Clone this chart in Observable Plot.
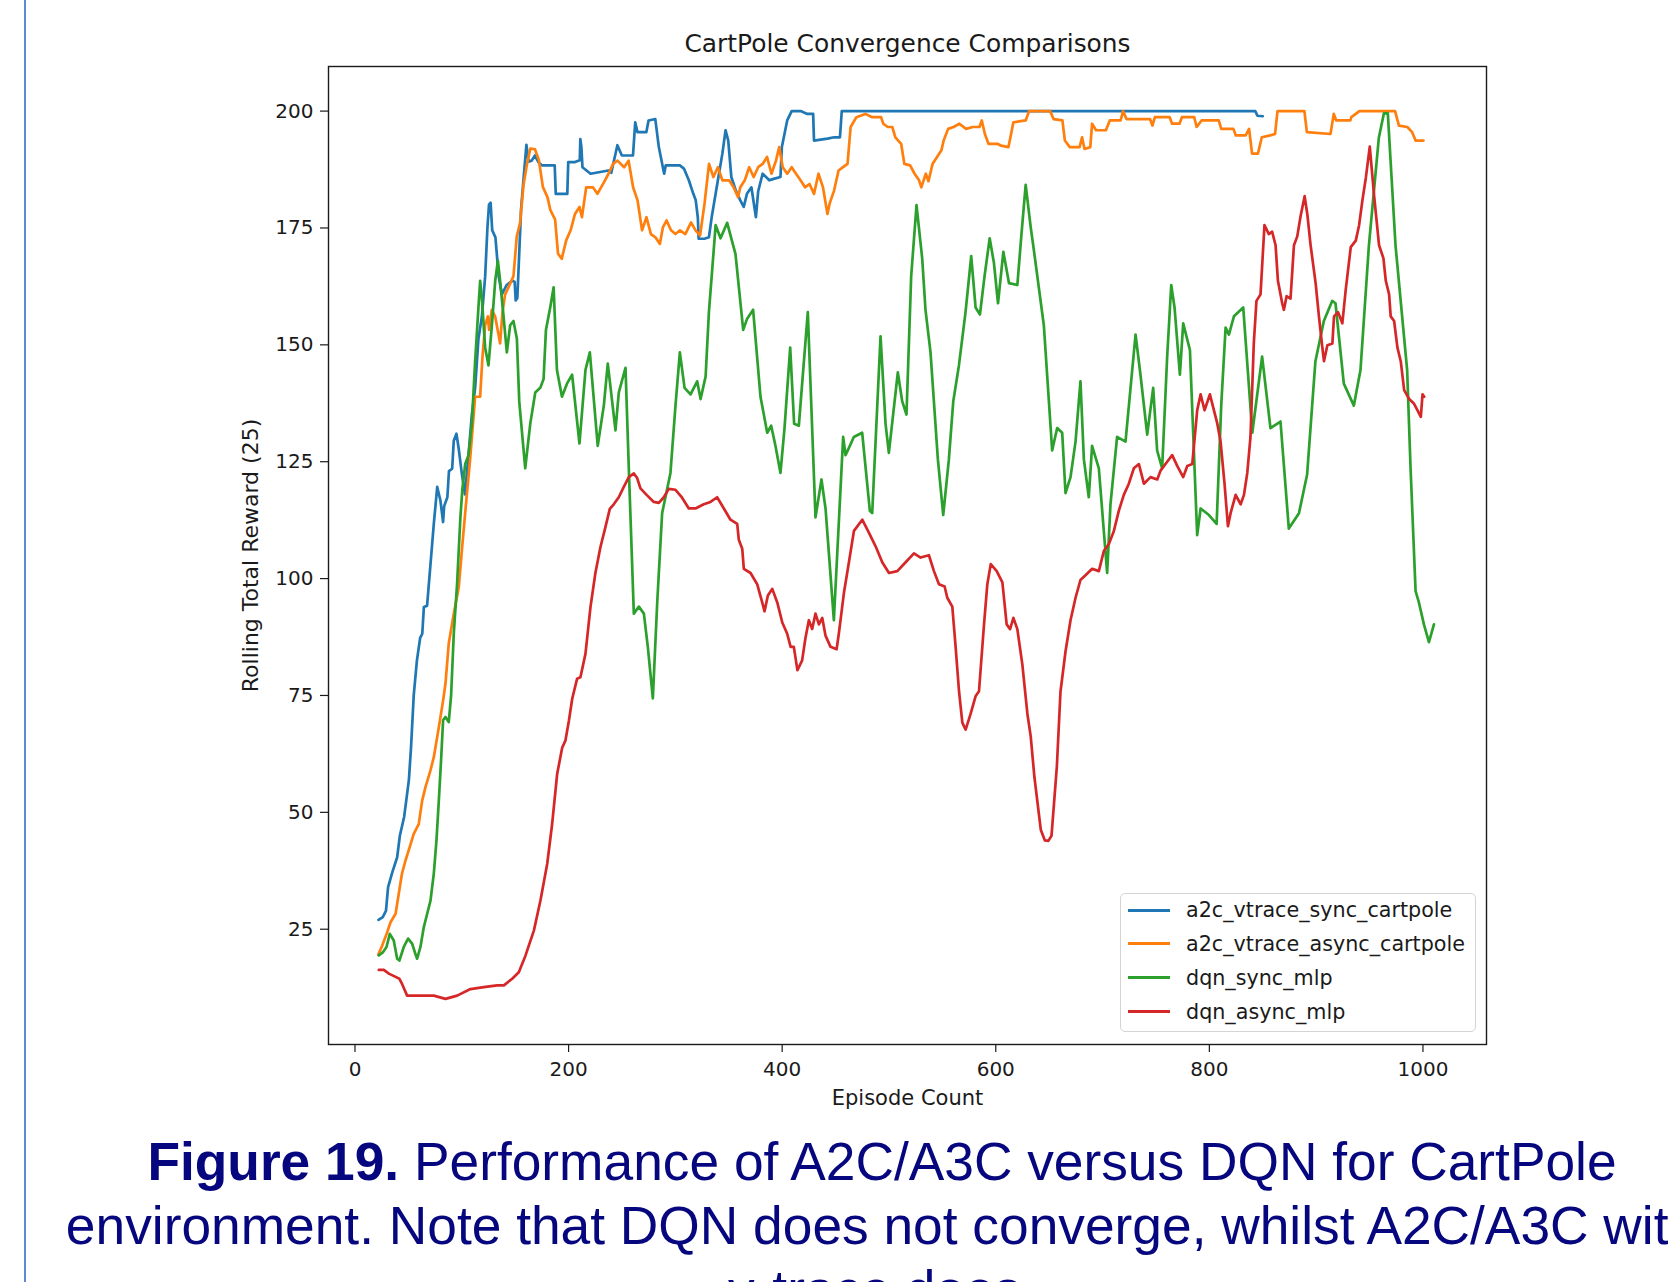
<!DOCTYPE html>
<html>
<head>
<meta charset="utf-8">
<script src="https://cdn.jsdelivr.net/npm/d3@7"></script>
<script src="https://cdn.jsdelivr.net/npm/@observablehq/plot@0.6"></script>
<style>
  html, body { margin: 0; padding: 0; background: #fff; overflow: hidden; }
  #page { position: relative; width: 1668px; height: 1282px; overflow: hidden; background: #fff; }
  #leftbar { position: absolute; left: 24px; top: 0; width: 2px; height: 1282px; background: #5b8bd0; }
  #chart { position: absolute; left: 0; top: 0; }
  #legend { position: absolute; left: 1120px; top: 893px; width: 354px; height: 137px;
            border: 1.5px solid #d4d4d4; border-radius: 5px; background: rgba(255,255,255,0.85);
            font-family: "DejaVu Sans", sans-serif; font-size: 20.7px; color: #1a1a1a; }
  .lrow { position: absolute; left: 0; height: 30px; line-height: 30px; white-space: nowrap; }
  .lrow .sw { position: absolute; left: 7px; top: 13.5px; width: 42px; height: 3px; }
  .lrow .lt { position: absolute; left: 65px; top: 0; }
  #caption { position: absolute; left: 32px; width: 1700px; top: 1130px; text-align: center;
             font-family: "Liberation Sans", Arial, sans-serif; font-size: 53.3px; line-height: 64px;
             color: #06067e; white-space: nowrap; }
  #caption b { font-weight: bold; }
</style>
</head>
<body>
<div id="page">
  <div id="leftbar"></div>
  <div id="chart"></div>
  <div id="legend"></div>
  <div id="caption"><b>Figure 19.</b> Performance of A2C/A3C versus DQN for CartPole<br>environment. Note that DQN does not converge, whilst A2C/A3C with<br>v-trace does.</div>
</div>
<script>
// ---------- Data ----------
const seriesNames = ["a2c_vtrace_sync_cartpole", "a2c_vtrace_async_cartpole", "dqn_sync_mlp", "dqn_async_mlp"];
const seriesColors = ["#1f77b4", "#ff7f0e", "#2ca02c", "#d62728"];
const xTicks = [0, 200, 400, 600, 800, 1000];
const yTicks = [25, 50, 75, 100, 125, 150, 175, 200];

const a2cSyncEp = [22,26,29,31,35,39.5,42,46,48,50.5,52.5,55,58,61,63,64.5,67.5,70.5,73.8,77,80,82.5,83.5,86.5,88,91,92.5,95,97,100,103,106.3,109.4,112.5,115.6,118.8,121.9,124,125.5,127,128.5,131.5,134.5,137.5,142,147,149.5,150.5,152,153.5,155.5,158,160.5,162.5,165.5,168.5,172,175,187,188,198.8,199.7,206,210.5,211,212,213,220.6,237.3,240,245.7,249.9,260.3,262.4,264.5,272.8,274.9,281.2,284.5,289.5,291,304.2,308,312.6,316.8,319,321,321.8,327.2,331.4,334,339.8,344,347,349.5,352.4,356.6,360.8,364,367,371.2,375.4,377.5,381.7,388,392,398.4,399.7,404.7,408.9,417.3,423.5,429,429.8,442.4,448.7,454.1,455.8,843,845,850];
const a2cSyncReward = [27,27.6,28.9,34,37.2,40.4,45,49,52.5,57,64,75,82.5,87.3,88.2,93.9,94.2,102.5,111.7,119.6,116.7,112.1,115.5,117.4,123,123.5,129.5,131,128,122.5,118,126.4,135,140.8,151.3,156,164.7,175,180,180.4,174.5,173,164.7,160.8,162.8,163.7,163.5,159.5,160,168,179,186,192.8,189.2,189.4,190.5,189,188.4,188.4,182.3,182.3,189.1,189.1,189.5,194,192.3,188,186.6,187.3,186.8,192.7,190.5,190.5,197.6,195.5,195.5,198,198.3,192.3,186.6,188.4,188.4,187.7,185.2,182.3,181,177.3,172.7,172.7,173,177.3,185.2,190.9,195.9,193.7,185.9,183,180.9,179.5,182.3,183.7,177.3,182.8,186.6,185.2,185.5,185.9,192.3,198,200,200,199.4,199.4,193.7,194.1,194.4,194.4,200,200,199,198.9];

const a2cAsyncEp = [21.8,25.5,29.6,33.3,38,41,44,47.3,51.3,55,59.7,62.9,66,70.7,73.8,78.5,82.5,84.7,87.8,92.5,97.2,100.3,104.7,107.8,112.5,117.2,119.4,121.9,124.4,125.6,128.1,131.2,134.4,135.9,138.1,140.6,143.7,148.4,151.5,154.6,157.8,160.9,164.2,168.6,172.2,175.9,180.2,183,187.4,190.1,193.6,197.7,201.9,206,210.2,212.5,216.5,222.8,227,233.2,237.4,241.6,245.8,252,256.2,260.4,264.6,268.8,272.9,277.1,281.3,285.5,288.4,291.8,295.9,300.1,304.3,309.3,314.7,318.9,323.1,327.3,331.5,335.6,339.8,344,350.3,354.5,358.7,360.8,365,369.1,373.3,377.5,381.7,385.8,390,394.2,397.2,400.5,404.7,408.9,413,417.2,421.4,425.6,429.8,434,438.2,442.4,444.4,448.6,452.8,457,461.2,464.1,469.5,477.9,484.2,492.6,494.7,498.9,503.1,506,511.4,514.4,519.8,524,528.2,530.3,534.5,537,540.8,545,549.1,551.2,555.4,560.5,565.9,572.2,578.5,584.8,586.9,589.8,593.2,601.6,605,611.9,616.5,628,631.2,650.9,654.1,662.4,664.7,669.3,678.5,680.8,683.1,688.5,690.2,693.9,703.1,706.8,716.9,719.2,722.4,744.4,746.7,749,762.8,765.1,772,774.3,785.8,788.1,792.7,808.8,811.1,822.5,824.8,834,837.2,840,845.5,849.1,856.9,861.5,863.8,889,891.3,913.4,916.5,918.8,932,933,940.5,973.9,977.5,985.3,989.9,993.1,1000.5];
const a2cAsyncReward = [19.6,21.5,24,26.5,28.3,32.6,36.9,39.7,42.6,45.4,47.5,52.5,55.4,59,61.8,68.2,73.9,77.5,86.1,92.5,98.2,106.6,117.9,125.5,138.9,138.9,147.5,154.2,156.1,153.2,157.5,156.1,152.2,150.3,157,160.8,162.3,164.7,173.2,176.1,184.2,188.5,192,191.8,189.5,183.8,181.6,178.8,176.8,169.5,168.4,172.3,174.5,178,179.5,177.3,183.7,183.7,182.3,184.8,186.6,188.7,189.4,188,189.4,183.7,180.9,174.5,177.3,173.7,173,171.6,175.2,176.6,174.5,173.7,174.5,173.7,176.2,174.5,173.4,180.2,188.7,185.9,188,185.2,185.2,183.7,181.6,183.7,185.2,188,185.9,188,188.7,190.2,186.6,189.4,192.3,188,186.6,188,186.6,185.2,183.7,184.4,182.3,186.6,183.7,178,180.2,183,187.3,188,188.7,196.6,198.7,199.4,198.7,198.7,197.3,196.6,196.6,194.4,193,188.7,188.4,186.6,185.2,183.7,186.6,185,188.7,190.2,191.6,193.7,196.2,196.6,197.3,196.2,196.6,196.6,198,195.1,193,193,192.6,192.3,197.6,198,200,200,198.3,198,193.7,192.3,192.3,194.4,191.9,192.3,197.3,195.9,195.9,198,198,200,198.3,198.3,196.9,198.7,198.7,197.3,197.3,198.7,198.7,196.6,198,198,196.2,196.2,194.8,194.8,196.2,190.9,190.9,194.4,194.8,195.1,200,200,195.5,195.1,199.4,198,198,198.7,200,200,196.9,196.6,195.5,193.7,193.7];

const dqnSyncEp = [22.3,26.3,29.5,32.6,36.3,39.5,41.6,45.7,49.7,53.5,56.6,58.2,61.3,64.4,67.6,70.7,73.8,76.3,78.5,80.6,82.5,84.7,87.8,90,92.5,95.6,98.7,100.5,103.2,106.3,109.4,112.5,115.6,117.2,118.8,121.9,125,128.2,131.3,133.8,135.9,139.1,142.2,145.3,148.4,151.6,153.8,159.4,164.1,168.8,173.5,176.6,178.8,182.8,186,189.1,193.8,198.5,203.3,210.2,215.8,219.9,227.3,233,236.7,240.8,243.9,247,253.3,256.4,261.1,265.8,270.5,274.2,278.9,283,287.6,295.4,300.1,304.2,308.6,314.2,320.4,323.6,328.3,331.4,337.7,342.3,348.5,356.3,363.5,367.2,372.8,379.7,386,389.7,393.7,398.4,402.2,407.5,411.2,415.6,424,431.2,436.8,440.6,448.4,457.1,459.3,462.4,467.1,474.9,482.1,484.3,492.1,496.8,499.9,508.3,512.4,516.4,520.8,525.8,531.1,534.2,538.9,545.8,550.8,556.1,560.2,565.5,571.7,577,581.1,585.2,589.5,594.3,598.3,602.1,607.1,612.4,620.2,623.9,628,632.7,635.6,645,652.8,657.5,662.2,665.3,670,674.7,679.3,682.5,687.1,690.2,696.5,704.3,707.4,713.6,721.5,726.2,730.9,735.5,741.8,747.4,751.1,755.8,760.5,764.3,767.4,772.4,775.5,781.8,788.6,791.8,799.6,806.8,811.1,815.2,818.3,823,831.7,840.2,849.4,857.2,866.6,874.4,883.9,891.5,899.3,907.2,915,918.1,925.9,935.3,941.5,949.4,958.7,963.4,967.1,974.3,985.2,988.4,993.1,996.2,1000.9,1005.6,1010.3];
const dqnSyncReward = [19.4,20.1,21.2,24,22.6,18.7,18.3,21.2,23,21.9,19.7,18.7,21.2,25.4,28.3,31.1,36.9,44,52.5,61.1,69.7,70.4,69.3,75,88.2,98.9,113.1,119,124.5,126.4,133.1,146.5,158,163.7,159.9,149.4,145.6,154.2,163.7,168,163.7,156.1,148.4,154.2,155.1,151.3,137.9,123.6,133.1,139.8,140.8,142.7,153.2,158,162.3,144.6,138.9,141.7,143.6,128.9,144.6,148.4,128.4,137,146,137.9,131.7,139.8,145.1,123.6,92.5,94,92.5,85.4,74.4,94.9,114,122.6,137,148.4,140.8,139.4,142.2,138.4,143.2,157,175.6,172.8,176.1,169.4,153.2,155.6,157.5,138.9,131.2,132.7,128.4,122.6,132.2,149.4,133.1,132.7,157,113.1,121.2,115,91.1,130.3,126.4,127.9,130.3,131.2,114.5,114,151.8,133.1,126.9,144.1,137.9,135.1,164.7,179.9,168.5,157.5,148.4,125.5,113.6,125.5,137.9,145.6,157,169,158,156.5,164.7,172.8,167.5,158.9,169.9,163.2,162.8,173.2,184.2,175.2,170.4,154.2,127.4,132.2,131.2,118.3,121.7,129.3,142.2,125.5,117.4,128.4,123.6,101.2,115.9,130.3,129.3,140.8,152.2,143.6,130.8,140.8,127.4,123.6,147.5,162.8,158,143.6,154.6,148.9,109.3,115,113.6,111.7,137,153.7,152.2,156.1,158,131.2,147.5,132.2,133.6,110.7,114,122.2,146.5,155.1,159.4,158.9,141.7,137,144.6,171.3,194.3,199.5,199.5,171.3,144.6,123.6,97.3,94.9,90.2,86.4,90.2];

const dqnAsyncEp = [22.3,27,31.7,38,41.6,44.1,48.8,58.2,73.8,84.7,95.7,108.1,120.6,133.1,139.4,147.2,153.4,159.7,167.5,173.7,180,184.6,189.3,194,197.1,200.3,203.4,208,211.1,215.8,220.5,225.1,229.8,234.5,238.6,242.3,247,251.7,256.4,261.1,264.2,267.3,273.5,279.8,284.5,289.2,293.8,300.1,306.3,312.6,318.8,326.6,332.9,339.1,345.4,351.6,357.9,359.4,362.6,364.1,370.4,376.6,381.3,383.5,386.6,390.7,395.4,400.1,404.7,407.9,410.9,414.3,418.7,421.8,425,428.1,431.2,434.4,437.5,440.6,445.3,451,453.1,457.8,462.5,467.2,475,481.3,487.5,493.7,500,507.8,515.6,523.4,529.6,537.4,542.1,546.8,552.1,554.6,559.3,562.4,565.6,568.7,571.8,576.5,581.2,584.3,589,592.1,595.3,600.9,606.2,610.2,613.4,616.5,620.2,624.9,629.6,632.7,636.2,642.2,646,649.2,652.2,657.2,660.6,665.3,670,674.7,679.3,684,690.3,696.5,701.2,705.9,710.6,715.2,719.9,724.6,729.3,734,738.7,744.9,751.2,754.3,760.5,765.2,769.9,775.5,779.3,784,788.6,791.8,795.5,800.5,807.4,810.5,814.2,817.4,819.9,824.6,829.3,832.4,835.5,838.5,841.6,844.1,847.9,851.6,855.7,858.8,862,864.2,868.2,869.8,872.3,876,879.2,882.3,885.4,889.2,891.7,894.8,899.5,902.6,905.8,907.3,910.5,915.2,916.7,920.5,924.5,927.7,932.4,937.1,940.2,943.3,946.5,950.2,954.3,958.9,963,965.2,968.3,969.8,973,976.1,979.2,982.4,987.1,991.7,994.9,998,999.6,1001.2];
const dqnAsyncReward = [16.3,16.3,15.5,14.8,14.4,13.3,10.8,10.8,10.8,10.1,10.8,12.2,12.6,13,13,14.4,15.8,19.4,24.7,31.2,39,47.5,58.2,63.8,65.4,69.6,74.3,78.6,78.9,83.9,93.9,101.2,106.7,111,114.9,115.9,117.4,119.6,121.7,122.5,121.5,119.3,117.8,116.4,116.2,117.4,119.2,119,117.3,115,115,115.9,116.4,117.4,115,112.6,111.7,108.3,106.4,102.1,101.2,98.8,94.9,93,96.4,97.8,94.9,90.6,88.2,85.4,85.4,80.4,82.5,87.3,91.1,89.2,92.5,90.2,91.6,87.8,85.4,84.9,88.3,96.9,103.5,110.2,112.6,109.8,106.9,103.5,101.2,101.6,103.5,105.4,104.5,105,101.6,98.8,98.3,95.9,94,85.4,75.9,69.2,67.7,71.1,74.9,75.9,90.2,98.8,103.1,101.6,99.2,90.2,89.2,91.6,89.2,81.6,71.1,66.3,57.5,46.2,44,43.9,45,59.8,75.8,84.4,91.1,95.9,99.7,100.7,102.1,101.6,105.9,107.4,110.2,114.5,117.9,120.3,123.6,124.5,120.3,121.7,121.2,123.1,125,126.4,124.1,121.7,124.1,124.5,136,139.4,136,139.4,133.2,129.3,120.3,111.2,114,117.9,115.9,117.9,122.6,130.3,150.3,159.4,160.8,175.6,173.7,174.2,171.3,163.7,158.9,157.5,160.4,159.9,171.3,173.2,177.5,181.8,178,171.3,163.2,156.1,149.4,146.5,149.9,150.3,156.1,157,154.6,161.8,170.9,172.3,175.6,180.9,185.7,192.4,181.8,171.3,168.5,163.7,160.8,156.1,155.1,149.4,146.5,140.3,138.4,137.4,136,134.6,139.4,138.9];

// ---------- Build ----------
const seriesEp = [a2cSyncEp, a2cAsyncEp, dqnSyncEp, dqnAsyncEp];
const seriesReward = [a2cSyncReward, a2cAsyncReward, dqnSyncReward, dqnAsyncReward];
const rows = seriesNames.flatMap((name, s) =>
  seriesEp[s].map((ep, i) => ({series: name, ep, reward: seriesReward[s][i]})));

const font = "DejaVu Sans, sans-serif";
const chart = Plot.plot({
  width: 1668,
  height: 1120,
  marginLeft: 328,
  marginRight: 182,
  marginTop: 66,
  marginBottom: 76,
  style: {fontFamily: font, fontSize: "20px", color: "#1a1a1a", background: "transparent", overflow: "visible"},
  x: {domain: [-24.8, 1059.5]},
  y: {domain: [0.34, 209.54]},
  color: {domain: seriesNames, range: seriesColors},
  marks: [
    Plot.line(rows, {x: "ep", y: "reward", z: "series", stroke: "series", strokeWidth: 2.7}),
    Plot.frame({stroke: "#1a1a1a", strokeWidth: 1.4}),
    Plot.axisX({ticks: xTicks, tickSize: 8, tickPadding: 9, label: null, fontSize: 20, tickFormat: d => String(d), stroke: "#1a1a1a", strokeWidth: 1.2}),
    Plot.axisY({ticks: yTicks, tickSize: 8, tickPadding: 7, label: null, fontSize: 20, tickFormat: d => String(d), stroke: "#1a1a1a", strokeWidth: 1.2}),
    Plot.text(["CartPole Convergence Comparisons"], {frameAnchor: "top", dy: -32, fontSize: 24.9, fill: "#1a1a1a"}),
    Plot.text(["Episode Count"], {frameAnchor: "bottom", dy: 60, fontSize: 21, fill: "#1a1a1a"}),
    Plot.text(["Rolling Total Reward (25)"], {frameAnchor: "left", textAnchor: "middle", dx: -78, rotate: -90, fontSize: 22, fill: "#1a1a1a"})
  ]
});
document.getElementById("chart").appendChild(chart);

// Legend
const legend = document.getElementById("legend");
const rowTops = [1, 34.5, 68.5, 102.5];
seriesNames.forEach((name, i) => {
  const r = document.createElement("div");
  r.className = "lrow";
  r.style.top = rowTops[i] + "px";
  r.innerHTML = `<div class="sw" style="background:${seriesColors[i]}"></div><span class="lt">${name}</span>`;
  legend.appendChild(r);
});
</script>
</body>
</html>
